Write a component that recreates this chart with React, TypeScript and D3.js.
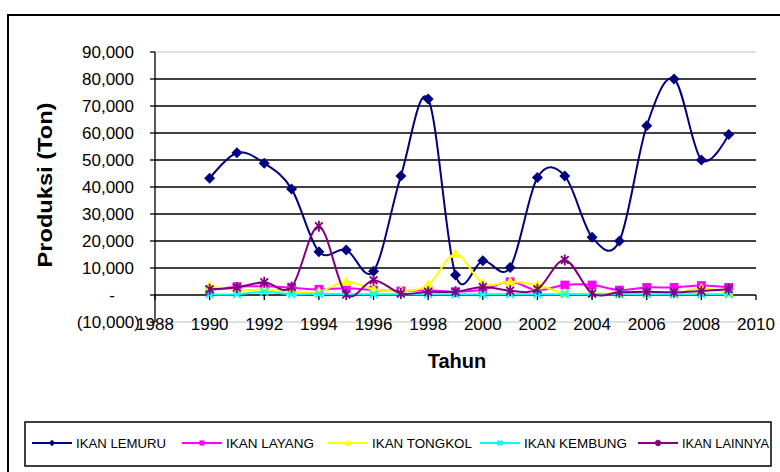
import React, { useRef, useEffect } from 'react';
import * as d3 from 'd3';

const years = [1990, 1991, 1992, 1993, 1994, 1995, 1996, 1997, 1998, 1999, 2000, 2001, 2002, 2003, 2004, 2005, 2006, 2007, 2008, 2009];
const lemuru = [43200, 52700, 48800, 39300, 16000, 16700, 8800, 44100, 72600, 7400, 12700, 10200, 43500, 44100, 21400, 20000, 62700, 80000, 50000, 59400];
const layang = [1800, 3100, 3200, 2700, 2100, 2500, 1800, 1500, 1800, 1200, 2000, 4900, 1800, 3700, 3700, 1800, 2800, 2800, 3500, 2800];
const tongkol = [3300, 1800, 2000, 1200, 1200, 4900, 2100, 1500, 3700, 15200, 4300, 4900, 3700, 600, 600, 600, 700, 700, 2500, 700];
const kembung = [300, 300, 1200, 300, 400, 300, 300, 300, 300, 300, 300, 300, 300, 300, 300, 300, 300, 300, 300, 300];
const lainnya = [2100, 2800, 4700, 3000, 25500, 200, 5500, 600, 1200, 1200, 3000, 1600, 2100, 13000, 600, 1000, 1200, 1000, 1500, 2100];

const seriesNames = ['IKAN LEMURU', 'IKAN LAYANG', 'IKAN TONGKOL', 'IKAN KEMBUNG', 'IKAN LAINNYA'];
const yTicks = [-10000, 0, 10000, 20000, 30000, 40000, 50000, 60000, 70000, 80000, 90000];
const xTicks = [1988, 1990, 1992, 1994, 1996, 1998, 2000, 2002, 2004, 2006, 2008, 2010];

const FONT = '"Liberation Sans", Arial, sans-serif';

const App = () => {
  const svgRef = useRef<SVGSVGElement>(null);

  useEffect(() => {
    const W = 780, H = 472;
    const series = [
      { name: seriesNames[0], values: lemuru, color: '#000080', marker: 'diamond' },
      { name: seriesNames[1], values: layang, color: '#FF00FF', marker: 'square' },
      { name: seriesNames[2], values: tongkol, color: '#FFFF00', marker: 'triangle' },
      { name: seriesNames[3], values: kembung, color: '#00FFFF', marker: 'cross' },
      { name: seriesNames[4], values: lainnya, color: '#800080', marker: 'star' },
    ];

    const x = d3.scaleLinear().domain([1988, 2010]).range([155, 756]);
    const y = d3.scaleLinear().domain([-10000, 90000]).range([322, 52]);

    const svg = d3.select(svgRef.current)
      .attr('width', W)
      .attr('height', H)
      .html('');

    svg.append('rect').attr('width', W).attr('height', H).attr('fill', '#fff');

    // outer frame
    svg.append('rect')
      .attr('x', 8).attr('y', 15).attr('width', 820).attr('height', 520)
      .attr('fill', 'none').attr('stroke', '#000').attr('stroke-width', 2);

    // plot border (grey)
    [y(90000), y(-10000)].forEach(v => {
      svg.append('line')
        .attr('x1', x(1988)).attr('x2', x(2010)).attr('y1', v).attr('y2', v)
        .attr('stroke', '#c0c0c0').attr('stroke-width', 1);
    });

    // gridlines
    svg.append('g')
      .selectAll('line')
      .data(yTicks.filter(t => t > 0 && t < 90000))
      .enter()
      .append('line')
        .attr('x1', x(1988)).attr('x2', x(2010))
        .attr('y1', d => y(d)).attr('y2', d => y(d))
        .attr('stroke', '#000').attr('stroke-width', 1.3);

    // y axis
    svg.append('line')
      .attr('x1', x(1988)).attr('x2', x(1988)).attr('y1', y(90000)).attr('y2', y(-10000))
      .attr('stroke', '#000').attr('stroke-width', 1.3);
    svg.append('g')
      .selectAll('line')
      .data(yTicks)
      .enter()
      .append('line')
        .attr('x1', x(1988) - 5).attr('x2', x(1988))
        .attr('y1', d => y(d)).attr('y2', d => y(d))
        .attr('stroke', '#000').attr('stroke-width', 1.3);

    const fmt = d3.format(',');
    svg.append('g')
      .selectAll('text')
      .data(yTicks)
      .enter()
      .append('text')
        .attr('x', d => d === 0 ? 115 : d < 0 ? 140 : 134)
        .attr('y', d => y(d) + 6)
        .attr('text-anchor', 'end')
        .attr('font-family', FONT)
        .attr('font-size', 17)
        .attr('fill', '#000')
        .text(d => d === 0 ? '-' : d < 0 ? `(${fmt(-d)})` : fmt(d));

    // x axis
    svg.append('line')
      .attr('x1', x(1988)).attr('x2', x(2010)).attr('y1', y(0)).attr('y2', y(0))
      .attr('stroke', '#000').attr('stroke-width', 1.3);
    svg.append('g')
      .selectAll('line')
      .data(xTicks)
      .enter()
      .append('line')
        .attr('x1', d => x(d)).attr('x2', d => x(d))
        .attr('y1', y(0)).attr('y2', y(0) + 5)
        .attr('stroke', '#000').attr('stroke-width', 1.3);
    svg.append('g')
      .selectAll('text')
      .data(xTicks)
      .enter()
      .append('text')
        .attr('x', d => x(d))
        .attr('y', 329.5)
        .attr('text-anchor', 'middle')
        .attr('font-family', FONT)
        .attr('font-size', 17)
        .attr('fill', '#000')
        .text(d => d);

    // axis titles
    svg.append('text')
      .attr('x', 457).attr('y', 368)
      .attr('text-anchor', 'middle')
      .attr('font-family', FONT).attr('font-size', 20).attr('font-weight', 'bold')
      .text('Tahun');
    svg.append('text')
      .attr('transform', 'translate(52,185) rotate(-90)')
      .attr('text-anchor', 'middle')
      .attr('font-family', FONT).attr('font-size', 20).attr('font-weight', 'bold')
      .attr('textLength', 165).attr('lengthAdjust', 'spacingAndGlyphs')
      .text('Produksi (Ton)');

    // markers
    const drawMarker = (g: any, type: string, color: string, s: number) => {
      if (type === 'diamond') {
        g.append('path').attr('d', `M0,${-s}L${s},0L0,${s}L${-s},0Z`).attr('fill', color);
      } else if (type === 'square') {
        const h = s * 0.8;
        g.append('rect').attr('x', -h).attr('y', -h).attr('width', 2 * h).attr('height', 2 * h).attr('fill', color);
      } else if (type === 'triangle') {
        g.append('path').attr('d', `M0,${-s}L${s},${s * 0.75}L${-s},${s * 0.75}Z`).attr('fill', color);
      } else if (type === 'cross') {
        const h = s * 0.7;
        g.append('path').attr('d', `M${-h},${-h}L${h},${h}M${-h},${h}L${h},${-h}`)
          .attr('stroke', color).attr('stroke-width', 2).attr('fill', 'none');
      } else {
        const h = s * 0.7;
        g.append('path').attr('d', `M${-h},${-h}L${h},${h}M${-h},${h}L${h},${-h}M0,${-s}L0,${s}`)
          .attr('stroke', color).attr('stroke-width', 1.8).attr('fill', 'none');
      }
    };

    const line = d3.line<number>()
      .x((_, i) => x(years[i]))
      .y(d => y(d))
      .curve(d3.curveCardinal.tension(0));

    series.forEach(s => {
      const g = svg.append('g');
      g.append('path')
        .attr('d', line(s.values))
        .attr('fill', 'none')
        .attr('stroke', s.color)
        .attr('stroke-width', 2);
      s.values.forEach((v, i) => {
        const m = g.append('g').attr('transform', `translate(${x(years[i])},${y(v)})`);
        drawMarker(m, s.marker, s.color, 5.5);
      });
    });

    // legend
    svg.append('rect')
      .attr('x', 25).attr('y', 422).attr('width', 746).attr('height', 44)
      .attr('fill', '#fff').attr('stroke', '#000').attr('stroke-width', 1.5);
    const legendX = [32, 182, 328, 480, 638];
    const legendW = [90, 88, 100, 103, 87];
    series.forEach((s, i) => {
      const lg = svg.append('g').attr('transform', `translate(${legendX[i]},443)`);
      lg.append('line').attr('x1', 0).attr('x2', 40).attr('y1', 0).attr('y2', 0)
        .attr('stroke', s.color).attr('stroke-width', 2);
      const m = lg.append('g').attr('transform', 'translate(20,0)');
      drawMarker(m, s.marker, s.color, 3.2);
      lg.append('text')
        .attr('x', 44).attr('y', 4.5)
        .attr('font-family', FONT).attr('font-size', 13)
        .attr('textLength', legendW[i]).attr('lengthAdjust', 'spacingAndGlyphs')
        .text(s.name);
    });
  }, []);

  return <svg ref={svgRef} style={{ position: 'absolute', left: 0, top: 0, display: 'block' }} />;
};

export default App;
